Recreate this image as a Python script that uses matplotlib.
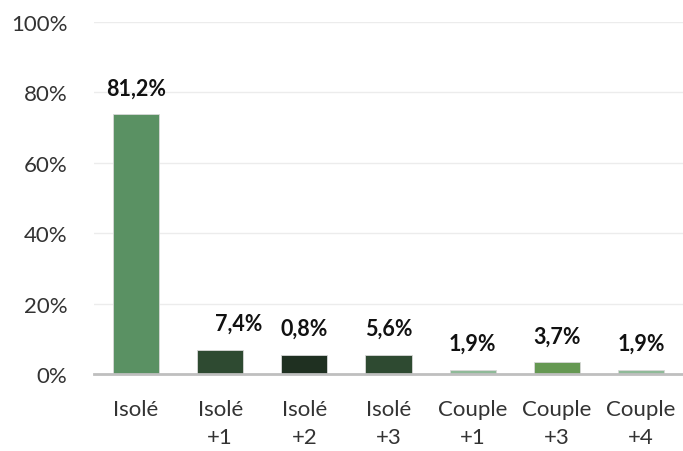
import matplotlib
matplotlib.use("Agg")
import matplotlib.pyplot as plt

categories = ["Isolé\n+0", "Isolé\n+1", "Isolé\n+2", "Isolé\n+3", "Couple\n+1", "Couple\n+3", "Couple\n+4"]
tick_labels = ["Isolé", "Isolé\n+1", "Isolé\n+2", "Isolé\n+3", "Couple\n+1", "Couple\n+3", "Couple\n+4"]
bar_values = [73.7, 6.9, 5.4, 5.4, 1.2, 3.3, 1.2]
value_labels = ["81,2%", "7,4%", "0,8%", "5,6%", "1,9%", "3,7%", "1,9%"]
colors = ["#5a9163", "#2e4a31", "#1f3021", "#2e4a31", "#8fba98", "#659852", "#8fba98"]
label_dx = [0, 13, 0, 0, 0, 0, 0]
yticks = [0, 20, 40, 60, 80, 100]

plt.rcParams['font.family'] = ['Lato', 'DejaVu Sans']

fig = plt.figure(figsize=(6.83, 4.52), dpi=100)
ax = fig.add_axes([94/683, 77/452, 589/683, (375-22.7)/452])

x = list(range(len(categories)))
bars = ax.bar(x, bar_values, width=0.55, color=colors, edgecolor="#d8d8d8", linewidth=0.6, zorder=3)

for xi, v, lab, dx in zip(x, bar_values, value_labels, label_dx):
    ax.annotate(lab, (xi, v), xytext=(dx, 19), textcoords="offset points",
                ha="center", va="center", fontsize=15.5, fontweight="bold", color="#111111")

ax.set_xlim(-0.5, len(categories) - 0.5)
ax.set_ylim(0, 100)
ax.set_yticks(yticks)
ax.set_yticklabels([f"{t}%" for t in yticks])
ax.set_xticks(x)
ax.set_xticklabels(tick_labels, linespacing=1.5)

ax.tick_params(axis="y", length=0, pad=19, labelsize=16, labelcolor="#333333")
ax.tick_params(axis="x", length=0, pad=18, labelsize=16, labelcolor="#333333")

ax.grid(axis="y", color="#ececec", linewidth=1, zorder=0)
for s in ["left", "right", "top"]:
    ax.spines[s].set_visible(False)
ax.spines["bottom"].set_color("#bfbfbf")
ax.spines["bottom"].set_linewidth(2)
ax.spines["bottom"].set_zorder(4)

fig.savefig("out.png", dpi=100)
